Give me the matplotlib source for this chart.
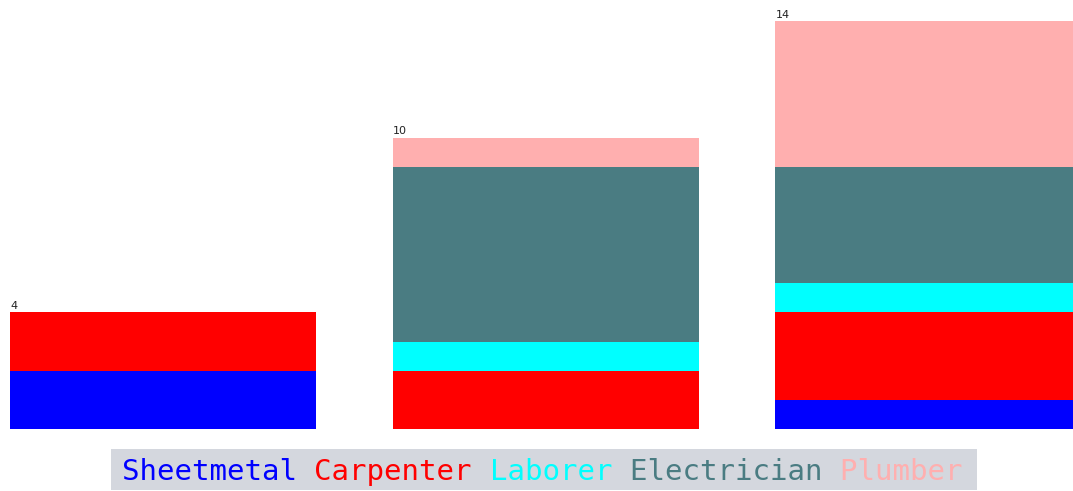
import matplotlib
matplotlib.use("Agg")
import matplotlib.pyplot as plt
from matplotlib.patches import Rectangle

# data
groups = ["A", "B", "C"]
trades = ["Sheetmetal", "Carpenter", "Laborer", "Electrician", "Plumber"]
sheetmetal = [2, 0, 1]
carpenter = [2, 2, 3]
laborer = [0, 1, 1]
electrician = [0, 6, 4]
plumber = [0, 1, 5]
colors = ["#0000ff", "#ff0000", "#00ffff", "#4a7c82", "#ffafaf"]

W, H = 1073, 491
fig = plt.figure(figsize=(W / 100, H / 100), dpi=100)
# axes placed in pixel terms: left edge 10px, bottom 62px
ax = fig.add_axes([10 / W, 62 / H, 1 - 10 / W, 1 - 62 / H])

series = [sheetmetal, carpenter, laborer, electrician, plumber]
x = list(range(len(groups)))
bottom = [0] * len(groups)
for vals, c in zip(series, colors):
    ax.bar(x, vals, width=0.8, bottom=bottom, color=c, linewidth=0)
    bottom = [b + v for b, v in zip(bottom, vals)]

# totals above each stack
for xi, tot in zip(x, bottom):
    ax.text(xi - 0.4 + 0.002, tot + 0.04, str(tot), fontsize=8,
            ha="left", va="bottom", color="#222222")

ax.set_xlim(-0.4, -0.4 + (W - 10) / 382.5)
ax.set_ylim(0, 429 / 29.14)
ax.axis("off")

# legend strip with coloured words
fig.patches.append(Rectangle((111 / W, 1 / H), 866 / W, 41 / H,
                             transform=fig.transFigure, facecolor="#d4d7de",
                             edgecolor="none", zorder=0))
ty = 19 / H
texts = []
for name, c in zip(trades, colors):
    t = fig.text(122 / W, ty, name + " ", color=c, family="DejaVu Sans Mono",
                 fontsize=21, ha="left", va="center")
    texts.append(t)

# chain the words one after another
fig.canvas.draw()
r = fig.canvas.get_renderer()
for i in range(1, len(texts)):
    bb = texts[i - 1].get_window_extent(r)
    texts[i].set_position((bb.x1 / W, ty))

fig.savefig("out.png", dpi=100)
